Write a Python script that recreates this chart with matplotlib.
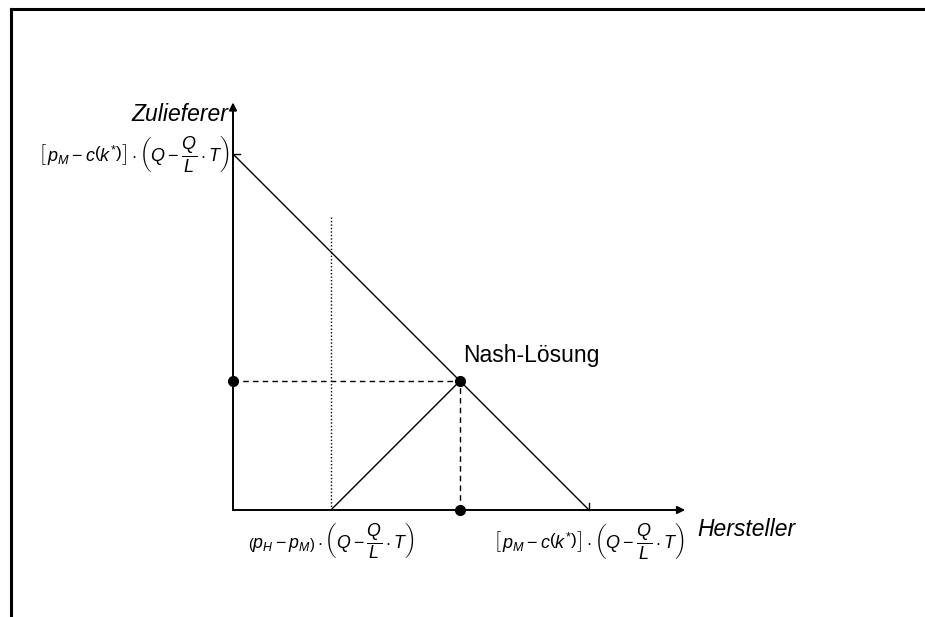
import matplotlib
matplotlib.use("Agg")
import matplotlib.pyplot as plt
from matplotlib.lines import Line2D

plt.rcParams["font.family"] = ["Liberation Sans", "DejaVu Sans"]
plt.rcParams["mathtext.fontset"] = "custom"
plt.rcParams["mathtext.rm"] = "Liberation Sans"
plt.rcParams["mathtext.it"] = "Liberation Sans:italic"
plt.rcParams["mathtext.bf"] = "Liberation Sans:bold"

# Verhandlungsgrenze (Nutzen normiert auf 1)
grenze_x = [0.0, 1.0]
grenze_y = [1.0, 0.0]
drohpunkt = 0.275          # Drohpunkt des Herstellers
nash_x = 0.6375
nash_y = 0.3625

label_oben = r"$\left[\,p_M - c\left(k^{*}\right)\right]\cdot\left(Q - \dfrac{Q}{L}\cdot T\right)$"
label_droh = r"$\left(p_H - p_M\right)\cdot\left(Q - \dfrac{Q}{L}\cdot T\right)$"
label_rechts = label_oben

fig = plt.figure(figsize=(9.25, 6.17), dpi=100)
ax = fig.add_axes([0, 0, 1, 1])
ax.set_xlim(-233 / 356, (925 - 233) / 356)
ax.set_ylim(-107 / 356, (617 - 107) / 356)
ax.axis("off")

# Rahmen oben und links
fig.add_artist(Line2D([10.5 / 925, 10.5 / 925], [0, 1 - 8.5 / 617], color="black", lw=2.2, transform=fig.transFigure))
fig.add_artist(Line2D([10.5 / 925, 1], [1 - 8.5 / 617, 1 - 8.5 / 617], color="black", lw=2.2, transform=fig.transFigure))

# Achsen mit Pfeilen
arrow = dict(arrowstyle="-|>", lw=1.4, color="black", mutation_scale=11, shrinkA=0, shrinkB=0)
ax.annotate("", xy=(1.27, 0), xytext=(0, 0), arrowprops=arrow)
ax.annotate("", xy=(0, 1.145), xytext=(0, 0), arrowprops=arrow)

# Grenze
ax.plot(grenze_x, grenze_y, color="black", lw=1.0)
ax.plot([0, 0.02], [1.0, 1.0], color="black", lw=1.0)
ax.plot([1.0, 1.0], [0, 0.02], color="black", lw=1.0)

# Drohpunkt -> Nash
ax.plot([drohpunkt, drohpunkt], [0, 0.83], color="black", lw=1.0, linestyle=(0, (1, 1.5)))
ax.plot([drohpunkt, nash_x], [0, nash_y], color="black", lw=1.0)
ax.plot([0, nash_x], [nash_y, nash_y], color="black", lw=1.0, linestyle=(0, (4, 3)))
ax.plot([nash_x, nash_x], [0, nash_y], color="black", lw=1.0, linestyle=(0, (4, 3)))
ax.plot([nash_x, 0, nash_x], [nash_y, nash_y, 0], "o", color="black", ms=7)

ax.text(-0.014, 1.11, "Zulieferer", style="italic", fontsize=16.5, ha="right", va="center")
ax.text(1.303, -0.056, "Hersteller", style="italic", fontsize=16.5, ha="left", va="center")
ax.text(0.646, 0.435, "Nash-Lösung", fontsize=16.5, ha="left", va="center")

ax.text(-0.008, 1.0, label_oben, fontsize=13, ha="right", va="center")
ax.text(drohpunkt, -0.088, label_droh, fontsize=12.8, ha="center", va="center")
ax.text(1.0, -0.088, label_rechts, fontsize=13, ha="center", va="center")

fig.savefig("out.png", dpi=100)
